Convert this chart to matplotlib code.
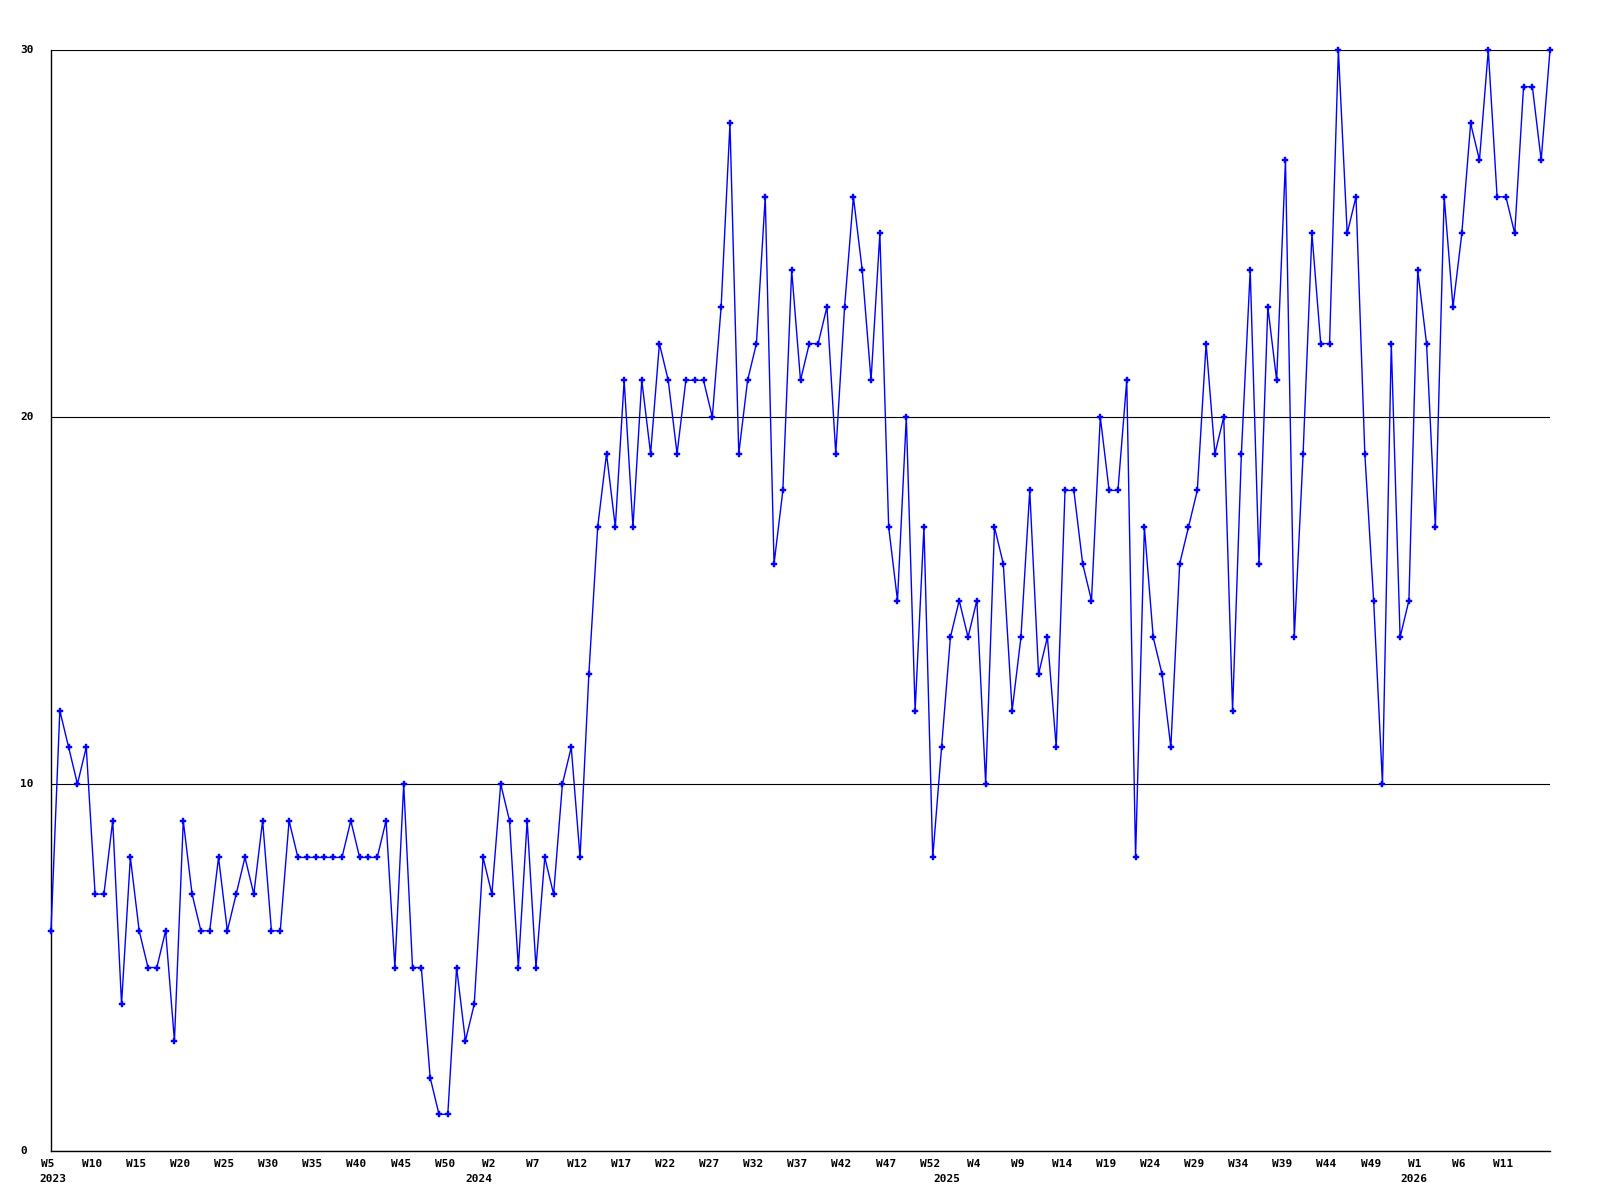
import matplotlib
matplotlib.use("Agg")
import matplotlib.pyplot as plt
import numpy as np
from matplotlib.transforms import ScaledTranslation, blended_transform_factory

# ---- data ----
values = [
    6, 12, 11, 10, 11, 7, 7, 9, 4, 8,
    6, 5, 5, 6, 3, 9, 7, 6, 6, 8,
    6, 7, 8, 7, 9, 6, 6, 9, 8, 8,
    8, 8, 8, 8, 9, 8, 8, 8, 9, 5,
    10, 5, 5, 2, 1, 1, 5, 3, 4, 8,
    7, 10, 9, 5, 9, 5, 8, 7, 10, 11,
    8, 13, 17, 19, 17, 21, 17, 21, 19, 22,
    21, 19, 21, 21, 21, 20, 23, 28, 19, 21,
    22, 26, 16, 18, 24, 21, 22, 22, 23, 19,
    23, 26, 24, 21, 25, 17, 15, 20, 12, 17,
    8, 11, 14, 15, 14, 15, 10, 17, 16, 12,
    14, 18, 13, 14, 11, 18, 18, 16, 15, 20,
    18, 18, 21, 8, 17, 14, 13, 11, 16, 17,
    18, 22, 19, 20, 12, 19, 24, 16, 23, 21,
    27, 14, 19, 25, 22, 22, 30, 25, 26, 19,
    15, 10, 22, 14, 15, 24, 22, 17, 26, 23,
    25, 28, 27, 30, 26, 26, 25, 29, 29, 27,
    30,
]

week_labels = (
    ["W5", "W10", "W15", "W20", "W25", "W30", "W35", "W40", "W45", "W50"]
    + ["W2", "W7", "W12", "W17", "W22", "W27", "W32", "W37", "W42", "W47", "W52"]
    + ["W4", "W9", "W14", "W19", "W24", "W29", "W34", "W39", "W44", "W49"]
    + ["W1", "W6", "W11"]
)
label_step = 5

year_labels = ["2023", "2024", "2025", "2026"]
year_start_index = [0, 49, 102, 155]

y_ticks = [0, 10, 20, 30]

# ---- figure ----
W, H, DPI = 1600, 1200, 100
fig = plt.figure(figsize=(W / DPI, H / DPI), dpi=DPI, facecolor="white")
ax = fig.add_axes([51 / W, 49 / H, 1499 / W, 1101 / H])

font = dict(family="DejaVu Sans Mono", weight="bold", size=8)

x = np.arange(len(values))
ax.plot(x, values, color="#0000ff", lw=1.0, marker="P", ms=4.0,
        mfc="#0000ff", mec="#0000ff", mew=0.3, clip_on=False, zorder=3)

ax.set_xlim(0, len(values) - 1)
ax.set_ylim(y_ticks[0], y_ticks[-1])

# horizontal grid lines
ax.set_yticks(y_ticks)
ax.yaxis.grid(True, color="black", lw=0.8)
ax.set_axisbelow(True)
ax.tick_params(axis="both", length=0)
ax.set_yticklabels([])

for sp in ("top", "right"):
    ax.spines[sp].set_visible(False)
for sp in ("left", "bottom"):
    ax.spines[sp].set_color("black")
    ax.spines[sp].set_linewidth(1.0)

# y labels, left aligned near the figure edge
ytrans = blended_transform_factory(fig.transFigure, ax.transData)
for v in y_ticks:
    ax.text(20 / W, v, str(v), transform=ytrans, ha="left", va="center",
            clip_on=False, **font)

# x week labels
tick_idx = np.arange(len(week_labels)) * label_step
ax.set_xticks(tick_idx)
ax.set_xticklabels(week_labels, **font)
ax.tick_params(axis="x", pad=6)
shift = ScaledTranslation(-3 / DPI, 0, fig.dpi_scale_trans)
for lbl in ax.get_xticklabels():
    lbl.set_transform(lbl.get_transform() + shift)

# year labels
xtrans = blended_transform_factory(ax.transData, fig.transFigure)
for k, (idx, yl) in enumerate(zip(year_start_index, year_labels)):
    if k == 0:
        ha, dx = "left", -11.5
    else:
        ha, dx = "center", -4
    tr = xtrans + ScaledTranslation(dx / DPI, 0, fig.dpi_scale_trans)
    ax.text(idx, 1 - 1179.5 / H, yl, transform=tr,
            ha=ha, va="center", clip_on=False, **font)

fig.savefig("out.png", dpi=DPI, facecolor="white")
